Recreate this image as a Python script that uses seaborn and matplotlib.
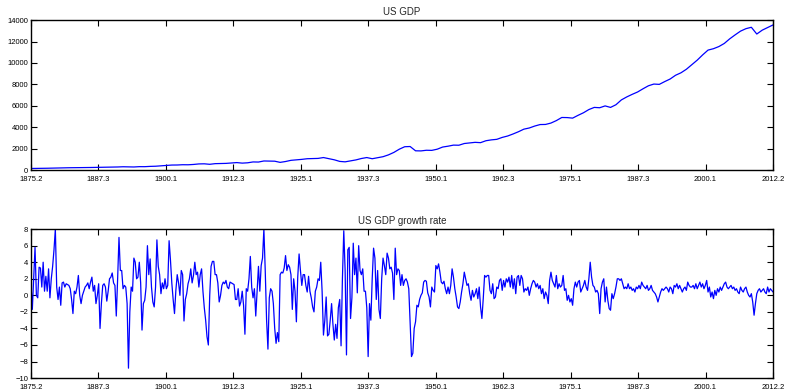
import numpy as np
import matplotlib
matplotlib.use('Agg')
import matplotlib.pyplot as plt
import seaborn as sns

# quarterly tick labels (year.quarter), 12 evenly spaced ticks over 1875Q2..2012Q2
tick_labels = ['1875.2', '1887.3', '1900.1', '1912.3', '1925.1', '1937.3',
               '1950.1', '1962.3', '1975.1', '1987.3', '2000.1', '2012.2']
n_quarters = 549

# real GDP, one reading per year (Q2 of each year, 1875..2012)
gdp = [150, 155, 162, 172, 185, 200, 208, 218, 222, 226,
       232, 242, 250, 255, 265, 280, 290, 310, 295, 290,
       320, 318, 345, 360, 395, 430, 470, 475, 500, 495,
       525, 575, 585, 540, 600, 610, 625, 660, 700, 650,
       680, 760, 750, 850, 840, 830, 720, 800, 910, 950,
       1000, 1060, 1070, 1090, 1170, 1060, 960, 810, 770, 860,
       950, 1080, 1170, 1060, 1150, 1250, 1420, 1650, 1950, 2180,
       2200, 1800, 1790, 1850, 1840, 1950, 2150, 2230, 2330, 2320,
       2480, 2540, 2590, 2560, 2740, 2820, 2870, 3050, 3180, 3370,
       3580, 3820, 3930, 4110, 4250, 4260, 4390, 4620, 4910, 4900,
       4850, 5110, 5350, 5650, 5850, 5820, 5990, 5850, 6100, 6550,
       6830, 7070, 7290, 7590, 7870, 8030, 8000, 8260, 8500, 8850,
       9080, 9410, 9830, 10260, 10750, 11200, 11330, 11530, 11820, 12250,
       12620, 12970, 13200, 13330, 12700, 13060, 13300, 13550]

# quarterly growth rate (%) in stretches
growth_1875 = [1.4, -1.7, 2.0, 5.8, 0.0, -0.3, 3.4, 3.3, 1.0, 4.0, 0.5, 2.3, 0.5, 3.2,
               -0.3, 2.0, 3.5, 5.5, 8.0, 1.0, -0.5, 1.0, -1.2, 1.5, 1.6, 1.0, 1.4, 1.3,
               1.2, 0.8, -0.5, -2.2, 0.5, 0.2, 1.0, 2.4, 0.0, -1.0, 0.0, 0.5, 1.0, 1.2,
               1.5, 0.8, 1.6, 2.2, 0.5, 1.2, -1.0, 0.0, 1.4, -4.0, -1.0, 1.2, 1.4, 1.0,
               -0.7, 0.5, 2.0, 2.2, 2.7, 1.5, 1.2, -2.5, 2.0, 7.0]
growth_1892 = [3.0, 3.0, 0.8, 1.2, 1.0, -1.0, -8.8, -2.0, 1.0, 0.5, 4.5, 4.0, 2.0, 2.2,
               4.0, 1.5, -4.2, -1.0, -0.6, 1.0, 6.0, 2.5, 4.4, 1.0, -0.8, -1.4, 1.0, 6.7,
               3.5, 2.5, 0.2, 1.5, 0.8, 2.0, 0.8, 1.2, 6.6, 4.3, 1.5, -0.5, -2.2, 0.6,
               2.5, 1.5, 0.0, 3.0, 2.5, -3.1, -0.5, 0.2, 1.4, 2.0, 3.2, 1.5, 2.4, 4.0,
               2.5, 2.8, 1.0, 2.5, 3.2, 0.5, -1.5, -3.0, -5.0, -6.0, 0.0, 3.5, 4.1, 4.1]
growth_1909 = [2.5, 2.5, 1.5, -0.8, 0.0, 1.2, 1.6, 1.4, 1.8, 1.0, 0.8, 1.6, 1.5, 1.4,
               1.3, -0.5, -0.5, 0.8, -1.3, -0.8, 0.5, -1.2, -4.7, 0.8, 0.5, 2.0, 4.7, 1.0,
               -0.3, 0.8, -2.5, 0.5, 3.5, 0.5, 3.6, 4.5, 8.0, 3.0, -3.0, -6.5, -0.3, 0.8,
               0.5, -1.0, -4.0, -5.8, -4.5, -5.6, 2.5, 2.8, 2.7, 3.3, 4.8, 3.0, 3.7, 3.4,
               2.5, -1.7, 2.0, 0.5, -3.2, 2.2, 5.0, 3.0, 1.2, 2.5, 2.5, 1.2, 0.4, 2.3]
growth_1927 = [0.5, -0.3, -1.4, -2.0, 0.5, 1.0, 2.0, 1.8, 4.0, 0.5, -4.8, -3.0, -0.2, -4.9,
               -4.7, -3.0, -1.0, -3.5, -5.4, -3.5, -5.2, -1.5, -0.5, -6.1, 2.0, 7.8, 3.0, -7.2,
               5.5, 5.8, -2.8, -0.3, 6.3, 2.5, 4.5, 0.3, 6.0, 3.0, 2.5, 3.2, 0.5, 0.5,
               -1.5, -7.4, -1.0, -3.0, 2.0, 5.7, 4.5, -0.5, 3.0, -1.7, -2.8, 2.0, 4.5, 3.6,
               2.5, 5.1, 4.5, 3.2, 3.4, 2.7, -0.5, 5.7, 2.5, 3.2, 3.0, 1.2, 2.5, 1.2]
growth_1944 = [1.8, 2.0, 1.6, 0.8, -3.2, -7.4, -7.0, -4.0, -3.2, -1.2, -1.4, -0.5, 0.0, 0.3,
               1.6, 1.8, 1.7, 0.3, -0.2, -1.4, 1.0, 0.6, 0.4, 3.6, 3.2, 3.8, 2.8, 1.6,
               1.4, 1.7, 0.8, 0.2, 1.0, 0.2, 1.2, 3.2, 2.2, 0.8, -0.2, -1.4, -1.6, -0.8,
               0.4, 1.4, 2.8, 2.0, 1.2, 1.4, 0.2, -0.6, 0.6, -0.2, 0.2, 0.8, -0.4, 1.0,
               -1.4, -2.8, -0.4, 2.4, 2.2, 2.4, 2.4, 0.6, 0.2, 1.4, -0.4, -0.2, 1.0, 0.8,
               1.8, 2.0]
growth_1962 = [0.6, 1.8, 1.0, 2.0, 1.6, 2.2, 1.0, 2.4, 0.8, 2.0, 0.2, 2.2, 2.4, 1.2,
               2.4, 2.0, 0.4, 0.8, 0.6, 1.0, 0.0, 0.8, 1.4, 1.8, 1.6, 1.0, 1.4, 0.8,
               1.2, 0.2, 0.8, -0.4, 0.4, 0.0, -1.0, 1.8, 2.8, 1.8, 1.4, 1.0, 2.4, 0.8,
               1.4, 1.0, 1.2, 2.4, 0.6, 0.8, -0.6, 0.0, -0.8, -0.4, -1.2, 0.8, 1.6, 1.0,
               1.6, 1.8, 0.4, 0.8, 1.2, 1.8, 1.0, 0.6, 2.0, 4.0, 2.2, 1.2, 1.0, 0.4]
growth_1979 = [0.6, 0.2, -2.2, 0.8, 1.6, 2.0, -0.8, 1.0, -0.6, -1.6, -1.8, 0.2, -0.4, 0.2,
               1.0, 2.0, 2.0, 1.8, 2.0, 1.4, 0.8, 1.0, 0.8, 1.4, 0.8, 1.0, 0.6, 0.8,
               0.4, 1.0, 0.8, 1.2, 0.8, 1.6, 1.2, 1.0, 0.8, 1.2, 0.6, 0.8, 1.2, 0.6,
               0.4, 0.2, -0.2, -0.8, -0.2, 0.4, 0.8, 0.6, 0.8, 1.0, 0.8, 0.4, 1.0, 0.8,
               0.2, 1.2, 1.0, 1.4, 0.8, 1.2, 0.8, 0.4, 0.8, 1.0, 0.6, 1.6, 1.2, 1.0]
growth_1997 = [1.0, 1.2, 0.8, 1.4, 0.8, 1.2, 1.6, 1.0, 1.4, 0.8, 1.2, 1.8, 0.4, 1.0,
               -0.2, 0.4, -0.4, 0.6, 0.0, 0.8, 0.4, 1.0, 0.6, 1.0, 1.4, 1.6, 1.0, 0.8,
               1.0, 1.2, 0.8, 1.0, 0.6, 0.8, 0.4, 0.2, 1.0, 0.6, 0.4, 0.8, 1.0, 0.4,
               0.0, -0.2, 0.2, -0.8, -2.4, -1.0, 0.2, 0.6, 0.8, 0.4, 0.6, 0.8, 0.4, 0.2,
               1.0, 0.4, 0.8, 0.6, 0.4]

growth = (growth_1875 + growth_1892 + growth_1909 + growth_1927 +
          growth_1944 + growth_1962 + growth_1979 + growth_1997)
growth_q = np.arange(len(growth))
gdp_q = np.arange(len(gdp)) * 4

sns.set_style('ticks')
plt.rcParams['font.family'] = ['Liberation Sans', 'DejaVu Sans']

fig = plt.figure(figsize=(7.86, 3.91), dpi=100)
ax1 = fig.add_axes([0.0394, 0.565, 0.9441, 0.3836])
ax2 = fig.add_axes([0.0394, 0.033, 0.9441, 0.381])

sns.lineplot(x=gdp_q, y=gdp, ax=ax1, color='#0000ff', linewidth=0.9)
sns.lineplot(x=growth_q, y=growth, ax=ax2, color='#0000ff', linewidth=0.9)

ax1.set_ylim(0, 14000)
ax1.set_yticks(np.arange(0, 14001, 2000))
ax2.set_ylim(-10, 8)
ax2.set_yticks(np.arange(-10, 9, 2))

for ax, title in [(ax1, 'US GDP'), (ax2, 'US GDP growth rate')]:
    ax.set_xlim(0, n_quarters - 1)
    ax.set_xticks(np.linspace(0, n_quarters - 1, 12))
    ax.set_xticklabels(tick_labels)
    ax.tick_params(direction='in', top=True, right=True, length=4, width=0.8,
                   labelsize=5.5, colors='black')
    ax.tick_params(axis='x', pad=4.5)
    ax.tick_params(axis='y', pad=2)
    for s in ax.spines.values():
        s.set_linewidth(1.0)
        s.set_color('black')
    ax.set_title(title, fontsize=7, pad=4)
    ax.set_xlabel('')
    ax.set_ylabel('')

fig.savefig('out.png', dpi=100)
